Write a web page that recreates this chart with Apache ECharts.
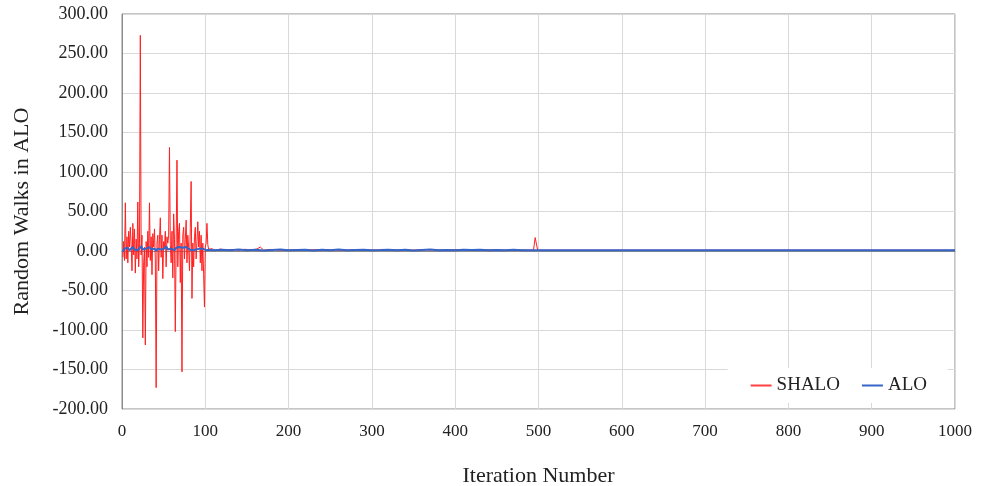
<!DOCTYPE html>
<html>
<head>
<meta charset="utf-8">
<script src="https://cdn.jsdelivr.net/npm/echarts@6/dist/echarts.min.js"></script>
<style>
  html, body { margin: 0; padding: 0; background: #ffffff; }
  #chart { width: 988px; height: 486px; }
</style>
</head>
<body>
<div id="chart"></div>
<script>
// Random walk traces of the ant lion optimiser (ALO) and its SHALO variant.
const seriesNames = ['SHALO', 'ALO'];
const yTicks = [-200, -150, -100, -50, 0, 50, 100, 150, 200, 250, 300];
const xTicks = [0, 100, 200, 300, 400, 500, 600, 700, 800, 900, 1000];

// SHALO: iterations 1..105, one value per iteration
const shaloEarly = [
  -8, 12, -12, 61, -10, 18, -15, 25, 5, 30,
  8, -25, 35, -5, 28, -28, 15, -10, 62, -20,
  10, 273, -5, 20, -110, -15, 5, -119, 12, -20,
  25, -8, 61, -12, 18, -30, 22, 5, 28, -10,
  -173, 10, 20, -25, 15, 42, -8, 20, -35, 12,
  5, 25, -20, 18, 10, 20, 131, 8, -15, 25,
  -34, 47, 15, -102, 10, 115, -20, 25, 35, -40,
  10, -153, 20, 30, -10, 15, 39, -15, 20, 5,
  -25, 30, 88, -60, 10, -20, 18, 30, -10, 12,
  37, 5, 25, -15, 20, -25, 10, -30, -71, 5,
  10, 35, 8, 2, 4
];
// SHALO after iteration 105: (iteration, value) pairs
const shaloLateIter = [108, 112, 118, 125, 132, 140, 148, 155, 162, 166, 170, 178, 190, 205, 220, 240, 260, 280, 300, 320, 340, 360, 380, 400, 420, 440, 460, 480, 490, 494, 496, 497, 499, 502, 1000];
const shaloLateVal  = [3, 0.5, 2.5, 1, 2, 0.8, 2.2, 1, 2.5, 5, 1, 2, 0.8, 1.6, 1.2, 1.8, 0.9, 1.5, 1.1, 1.7, 0.9, 1.4, 1.2, 1.6, 1.0, 1.5, 1.1, 1.3, 1, 1.2, 17, 17.5, 1, 1, 1];

// ALO: (iteration, value) pairs
const aloIter = [
  1, 3, 5, 7, 9, 11, 13, 15, 17, 19, 21, 23, 25, 27, 29, 31, 33, 35, 37, 39,
  41, 43, 45, 47, 49, 51, 53, 55, 57, 59, 61, 63, 65, 67, 69, 71, 73, 75, 77, 79,
  81, 83, 85, 87, 89, 91, 93, 95, 97, 99, 101, 103, 105, 107, 109,
  120, 130, 140, 150, 160, 170, 180, 190, 200, 210, 220, 230, 240, 250, 260, 270,
  280, 290, 300, 310, 320, 330, 340, 350, 360, 370, 380, 390, 400, 410, 420, 430,
  440, 450, 460, 470, 480, 500, 1000
];
const aloVal = [
  -1, 3, 2, 4, 1, 3, 5, 2, 4, 1, 3, 6, 2, 4, 3, 1, 5, 2, 4, 3,
  0, 3, 5, 2, 4, 3, 6, 2, 4, 3, 5, 1, 4, 2, 5, 3, 4, 2, 5, 3,
  2, 4, 1, 3, 2, 4, 3, 1, 3, 2, 1, 2, 1.5, 2, 1,
  1.5, 0.8, 1.8, 1.0, 1.6, 0.6, 1.4, 1.9, 0.9, 1.3, 1.7, 0.7, 1.5, 1.1, 1.8, 0.9,
  1.4, 1.6, 0.8, 1.2, 1.7, 1.0, 1.5, 0.7, 1.3, 1.8, 1.0, 1.4, 0.9, 1.6, 1.2, 1.7,
  0.8, 1.4, 1.1, 1.5, 0.9, 1, 1
];

const shaloData = shaloEarly.map((v, i) => [i + 1, v])
  .concat(shaloLateIter.map((x, i) => [x, shaloLateVal[i]]));
const aloData = aloIter.map((x, i) => [x, aloVal[i]]);

const serif = 'Liberation Serif';
const chart = echarts.init(document.getElementById('chart'), null, { renderer: 'canvas' });
chart.setOption({
  animation: false,
  backgroundColor: '#ffffff',
  grid: {
    left: 122, right: 33, top: 14, bottom: 77,
    outerBoundsMode: 'none',
    containLabel: false,
    show: true, borderColor: '#8c8c8c', borderWidth: 1
  },
  xAxis: {
    type: 'value',
    min: xTicks[0], max: xTicks[xTicks.length - 1], interval: 100,
    name: 'Iteration Number',
    nameLocation: 'middle', nameGap: 56,
    nameTextStyle: { fontFamily: serif, fontSize: 22, color: '#222' },
    axisLine: { show: true, lineStyle: { color: '#8c8c8c' } },
    axisTick: { show: false },
    axisLabel: {
      fontFamily: serif, fontSize: 17, color: '#222', margin: 14,
      formatter: v => String(v)
    },
    splitLine: { show: true, lineStyle: { color: '#d9d9d9', width: 1 } }
  },
  yAxis: {
    type: 'value',
    min: yTicks[0], max: yTicks[yTicks.length - 1], interval: 50,
    name: 'Random Walks in ALO',
    nameLocation: 'middle', nameGap: 89, nameRotate: 90,
    nameTextStyle: { fontFamily: serif, fontSize: 22, color: '#222' },
    axisLine: { show: true, lineStyle: { color: '#8c8c8c' } },
    axisTick: { show: false },
    axisLabel: {
      fontFamily: serif, fontSize: 18, color: '#222', margin: 14,
      formatter: v => v.toFixed(2)
    },
    splitLine: { show: true, lineStyle: { color: '#d9d9d9', width: 1 } }
  },
  legend: {
    data: seriesNames,
    right: 40, bottom: 83,
    backgroundColor: '#ffffff',
    padding: [8, 21, 8, 23],
    itemWidth: 21, itemHeight: 2, itemGap: 22,
    icon: 'rect',
    textStyle: { fontFamily: serif, fontSize: 19, color: '#222' }
  },
  series: [
    {
      name: seriesNames[0], type: 'line', data: shaloData,
      showSymbol: false, symbol: 'none',
      lineStyle: { color: '#ff2020', width: 1 },
      itemStyle: { color: '#ff4040' }
    },
    {
      name: seriesNames[1], type: 'line', data: aloData,
      showSymbol: false, symbol: 'none',
      lineStyle: { color: '#3565c8', width: 2 },
      itemStyle: { color: '#3565c8' }
    }
  ]
});
</script>
</body>
</html>
